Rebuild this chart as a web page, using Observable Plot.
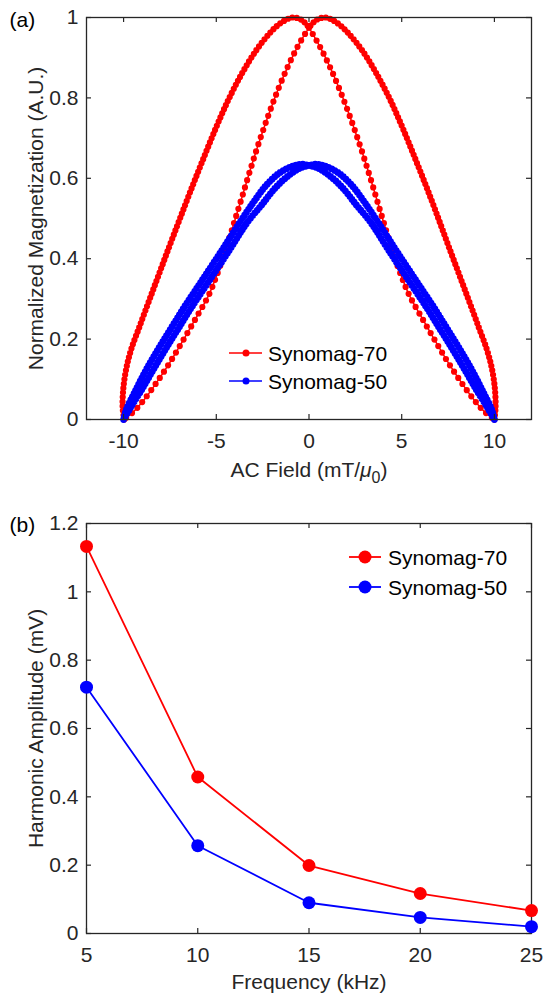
<!DOCTYPE html>
<html><head><meta charset="utf-8">
<script src="https://cdn.jsdelivr.net/npm/d3@7"></script>
<script src="https://cdn.jsdelivr.net/npm/@observablehq/plot@0.6"></script>
<style>
body{margin:0;background:#fff;}
#wrap{width:544px;}
#wrap svg{display:block;}
</style></head><body><div id="wrap"></div>
<script>
// ---------- DATA ----------
// Panel (a): [AC field, normalized magnetization]
// Synomag-70, branch A: outer left side up to the crossing, then inner right side
const m70_aOuter = [[-9.97,0],[-10.05,0.03],[-10.02,0.074],[-9.87,0.123],[-9.6,0.173],[-9.15,0.23],[-8.62,0.296],[-8.08,0.363],[-7.52,0.432],[-6.95,0.501],[-6.35,0.573],[-5.73,0.645],[-5.05,0.722],[-4.35,0.795],[-3.6,0.862],[-2.85,0.918],[-2.1,0.962],[-1.5,0.987],[-0.9,1.0],[-0.4,0.994],[0,0.975]];
const m70_aInner = [[0,0.975],[0.56,0.93],[1.1,0.88],[1.64,0.822],[2.18,0.757],[2.72,0.686],[3.2,0.617],[3.62,0.553],[3.95,0.502],[4.28,0.452],[4.6,0.405],[4.97,0.358],[5.4,0.31],[6.0,0.26],[6.75,0.2],[7.5,0.142],[8.25,0.09],[8.95,0.046],[9.45,0.02],[9.85,0.005],[9.98,0]];
// Synomag-70, branch B: outer right side up to the crossing, then inner left side
const m70_bOuter = [[10.0,0],[10.06,0.03],[10.03,0.074],[9.88,0.123],[9.6,0.173],[9.15,0.23],[8.62,0.296],[8.08,0.363],[7.52,0.432],[6.97,0.501],[6.38,0.573],[5.76,0.645],[5.08,0.722],[4.38,0.795],[3.62,0.862],[2.87,0.918],[2.1,0.962],[1.5,0.987],[0.9,1.0],[0.4,0.994],[0,0.975]];
const m70_bInner = [[0,0.975],[-0.56,0.932],[-1.1,0.882],[-1.64,0.824],[-2.18,0.758],[-2.72,0.686],[-3.2,0.616],[-3.62,0.552],[-3.97,0.5],[-4.3,0.45],[-4.63,0.403],[-4.98,0.358],[-5.4,0.31],[-6.0,0.26],[-6.75,0.2],[-7.5,0.142],[-8.25,0.09],[-8.95,0.046],[-9.45,0.02],[-9.85,0.005],[-9.97,0]];
// Synomag-50, branches A and B
const m50_aOuter = [[-10,0],[-9.85,0.025],[-9.4,0.068],[-8.8,0.122],[-8.15,0.174],[-7.45,0.226],[-6.75,0.278],[-6.0,0.33],[-5.25,0.382],[-4.5,0.435],[-3.75,0.489],[-3.0,0.54],[-2.3,0.583],[-1.6,0.613],[-0.9,0.63],[-0.4,0.635],[0,0.632]];
const m50_aInner = [[0,0.632],[0.45,0.626],[1.1,0.607],[1.8,0.577],[2.55,0.534],[3.35,0.489],[4.1,0.435],[4.85,0.382],[5.6,0.33],[6.35,0.278],[7.05,0.226],[7.75,0.174],[8.42,0.122],[9.05,0.072],[9.62,0.03],[10,0]];
const m50_bOuter = [[10,0],[9.85,0.025],[9.4,0.068],[8.8,0.122],[8.15,0.174],[7.45,0.226],[6.75,0.278],[6.0,0.33],[5.25,0.382],[4.5,0.435],[3.75,0.489],[3.0,0.54],[2.3,0.583],[1.6,0.613],[0.9,0.63],[0.4,0.635],[0,0.632]];
const m50_bInner = [[0,0.632],[-0.45,0.626],[-1.1,0.607],[-1.8,0.577],[-2.55,0.534],[-3.35,0.489],[-4.1,0.435],[-4.85,0.382],[-5.6,0.33],[-6.35,0.278],[-7.05,0.226],[-7.75,0.174],[-8.42,0.122],[-9.05,0.072],[-9.62,0.03],[-10,0]];

const fieldTicks = [-10, -5, 0, 5, 10];
const magTicks = [0, 0.2, 0.4, 0.6, 0.8, 1];

// Panel (b): harmonic amplitude (mV) vs frequency (kHz)
const freq = [5, 10, 15, 20, 25];
const amp70 = [1.133, 0.458, 0.199, 0.117, 0.067];
const amp50 = [0.721, 0.257, 0.09, 0.047, 0.02];
const freqTicks = [5, 10, 15, 20, 25];
const ampTicks = [0, 0.2, 0.4, 0.6, 0.8, 1, 1.2];

const seriesNames = ["Synomag-70", "Synomag-50"];
const seriesColors = ["#ff0000", "#0000ff"];

// ---------- STYLE ----------
const FONT = "'Liberation Sans', Arial, Helvetica, sans-serif";
const INK = "#262626";
const W = 544;
const fmt = d => String(d);

function boxTicks(xt, yt, fw, fh, len) {
  return [
    Plot.tickX(xt, {x: d => d, insetTop: fh - len, stroke: INK, strokeWidth: 1.2}),
    Plot.tickX(xt, {x: d => d, insetBottom: fh - len, stroke: INK, strokeWidth: 1.2}),
    Plot.tickY(yt, {y: d => d, insetRight: fw - len, stroke: INK, strokeWidth: 1.2}),
    Plot.tickY(yt, {y: d => d, insetLeft: fw - len, stroke: INK, strokeWidth: 1.2})
  ];
}
const xy = {x: d => d[0], y: d => d[1]};
function side(data, color, gap, w = 6.2) {
  return [
    Plot.line(data, {...xy, stroke: color, strokeWidth: 1.5, curve: "catmull-rom"}),
    Plot.line(data, {...xy, stroke: color, strokeWidth: w, strokeDasharray: `0 ${gap}`, strokeLinecap: "round", curve: "catmull-rom"})
  ];
}

function addLegend(svg, {x0, x1, xm, xt, ys, r, lw}) {
  const g = d3.select(svg).append("g")
    .attr("font-family", FONT).attr("font-size", 21).attr("text-anchor", "start");
  seriesNames.forEach((name, i) => {
    const y = ys[i];
    g.append("line").attr("x1", x0).attr("x2", x1).attr("y1", y).attr("y2", y)
      .attr("stroke", seriesColors[i]).attr("stroke-width", lw);
    g.append("circle").attr("cx", xm).attr("cy", y).attr("r", r).attr("fill", seriesColors[i]);
    g.append("text").attr("x", xt).attr("y", y).attr("dy", "0.36em")
      .attr("text-anchor", "start").attr("fill", "#000").text(name);
  });
}

// ---------- PANEL (a) ----------
const A = {height: 500, mt: 17, mb: 81, ml: 86, mr: 13};
const fwA = W - A.ml - A.mr, fhA = A.height - A.mt - A.mb;
const chartA = Plot.plot({
  width: W, height: A.height,
  marginTop: A.mt, marginBottom: A.mb, marginLeft: A.ml, marginRight: A.mr,
  style: {fontFamily: FONT, fontSize: "21px", color: INK, background: "white", overflow: "visible"},
  x: {domain: [-12, 12]},
  y: {domain: [0, 1]},
  marks: [
    ...side(m70_aOuter, seriesColors[0], 4.5),
    ...side(m70_aInner, seriesColors[0], 7.5),
    ...side(m70_bOuter, seriesColors[0], 4.5),
    ...side(m70_bInner, seriesColors[0], 7.5),
    ...side(m50_aOuter, seriesColors[1], 3.5, 6.8),
    ...side(m50_aInner, seriesColors[1], 3.5, 6.8),
    ...side(m50_bOuter, seriesColors[1], 3.5, 6.8),
    ...side(m50_bInner, seriesColors[1], 3.5, 6.8),
    Plot.frame({stroke: INK, strokeWidth: 1.3}),
    ...boxTicks(fieldTicks, magTicks, fwA, fhA, 5),
    Plot.axisX({ticks: fieldTicks, tickSize: 0, tickPadding: 14, tickFormat: fmt, label: null, fill: INK}),
    Plot.axisY({ticks: magTicks, tickSize: 0, tickPadding: 8, tickFormat: fmt, label: null, fill: INK}),
    Plot.text(["AC Field (mT/μ0)"], {text: d => d, frameAnchor: "bottom", dy: 43, lineAnchor: "top", fill: INK}),
    Plot.text(["Normalized Magnetization (A.U.)"], {text: d => d, frameAnchor: "left", textAnchor: "middle", rotate: -90, dx: -58, lineAnchor: "top", fill: INK}),
    Plot.text(["(a)"], {text: d => d, frameAnchor: "top-left", textAnchor: "start", dx: -77, dy: -5, lineAnchor: "top", fill: "#000"})
  ]
});
// x label with an italic mu and a subscript 0
d3.select(chartA).selectAll("text").filter(function() { return this.textContent === "AC Field (mT/μ0)"; })
  .each(function() {
    const t = d3.select(this);
    t.text(null);
    t.append("tspan").text("AC Field (mT/");
    t.append("tspan").attr("font-style", "italic").text("μ");
    t.append("tspan").attr("font-size", 16).attr("dy", 6).text("0");
    t.append("tspan").attr("dy", -6).text(")");
  });
addLegend(chartA, {x0: 229, x1: 262, xm: 246, xt: 268, ys: [353, 381], r: 3.5, lw: 1.6});

// ---------- PANEL (b) ----------
const B = {height: 497, mt: 23, mb: 64, ml: 86, mr: 13};
const fwB = W - B.ml - B.mr, fhB = B.height - B.mt - B.mb;
const rows = freq.map((f, i) => ({f, a70: amp70[i], a50: amp50[i]}));
const chartB = Plot.plot({
  width: W, height: B.height,
  marginTop: B.mt, marginBottom: B.mb, marginLeft: B.ml, marginRight: B.mr,
  style: {fontFamily: FONT, fontSize: "21px", color: INK, background: "white", overflow: "visible"},
  x: {domain: [5, 25]},
  y: {domain: [0, 1.2]},
  marks: [
    Plot.frame({stroke: INK, strokeWidth: 1.3}),
    ...boxTicks(freqTicks, ampTicks, fwB, fhB, 5),
    Plot.axisX({ticks: freqTicks, tickSize: 0, tickPadding: 14, tickFormat: fmt, label: null, fill: INK}),
    Plot.axisY({ticks: ampTicks, tickSize: 0, tickPadding: 8, tickFormat: fmt, label: null, fill: INK}),
    Plot.line(rows, {x: "f", y: "a70", stroke: seriesColors[0], strokeWidth: 1.8}),
    Plot.dot(rows, {x: "f", y: "a70", r: 6.5, fill: seriesColors[0]}),
    Plot.line(rows, {x: "f", y: "a50", stroke: seriesColors[1], strokeWidth: 1.8}),
    Plot.dot(rows, {x: "f", y: "a50", r: 6.5, fill: seriesColors[1]}),
    Plot.text(["Frequency (kHz)"], {text: d => d, frameAnchor: "bottom", dy: 41, lineAnchor: "top", fill: INK}),
    Plot.text(["Harmonic Amplitude (mV)"], {text: d => d, frameAnchor: "left", textAnchor: "middle", rotate: -90, dx: -58, lineAnchor: "top", fill: INK}),
    Plot.text(["(b)"], {text: d => d, frameAnchor: "top-left", textAnchor: "start", dx: -77, dy: -6, lineAnchor: "top", fill: "#000"})
  ]
});
addLegend(chartB, {x0: 349, x1: 381, xm: 365, xt: 388, ys: [57, 87], r: 6.5, lw: 1.8});

document.getElementById("wrap").append(chartA, chartB);
</script>
</body></html>
